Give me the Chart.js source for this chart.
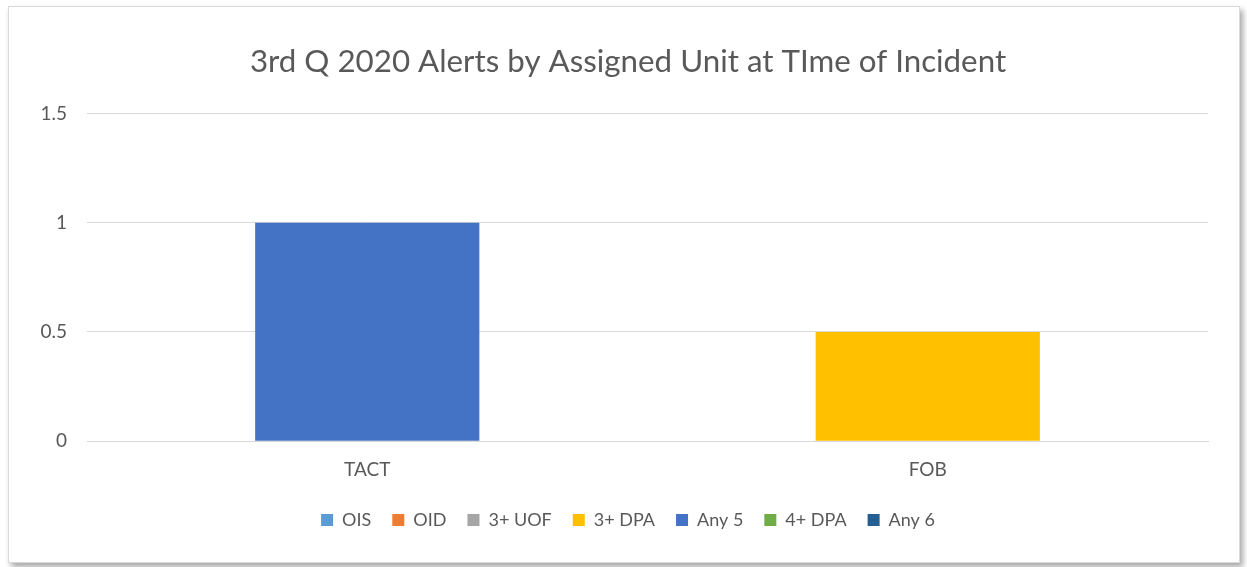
<!DOCTYPE html>
<html>
<head>
<meta charset="utf-8">
<script src="https://cdn.jsdelivr.net/npm/chart.js@4"></script>
<style>
  html, body { margin: 0; padding: 0; background: #fff; }
  #frame {
    position: absolute; left: 8px; top: 6px; width: 1230px; height: 555px;
    border: 1px solid #d9d9d9; background: #fff;
    box-shadow: 3px 4px 6px rgba(0,0,0,0.35);
  }
  #chart { display: block; }
</style>
</head>
<body>
<div id="frame"><canvas id="chart" width="1230" height="555"></canvas></div>
<script>
const categories = ["TACT", "FOB"];
const seriesNames = ["OIS", "OID", "3+ UOF", "3+ DPA", "Any 5", "4+ DPA", "Any 6"];
const seriesColors = ["#5B9BD5", "#ED7D31", "#A5A5A5", "#FFC000", "#4472C4", "#70AD47", "#255E91"];
const ois = [null, null];
const oid = [null, null];
const uof3 = [null, null];
const dpa3 = [null, 0.5];
const any5 = [1, null];
const dpa4 = [null, null];
const any6 = [null, null];
const yTicks = [0, 0.5, 1, 1.5];

const values = [ois, oid, uof3, dpa3, any5, dpa4, any6];
const font = "Lato, 'Open Sans', sans-serif";

new Chart(document.getElementById("chart"), {
  type: "bar",
  data: {
    labels: categories,
    datasets: seriesNames.map((name, i) => ({
      label: name,
      data: values[i],
      backgroundColor: seriesColors[i],
      borderWidth: 0,
      categoryPercentage: 1,
      barPercentage: 0.4
    }))
  },
  options: {
    responsive: false,
    animation: false,
    layout: { padding: { left: 8, right: 0, top: 36, bottom: 23 } },
    plugins: {
      title: {
        display: true,
        text: "3rd Q 2020 Alerts by Assigned Unit at TIme of Incident",
        color: "#595959",
        font: { family: font, size: 31.3, weight: "normal" },
        padding: { top: 0, bottom: 33 }
      },
      legend: {
        position: "bottom",
        labels: {
          color: "#595959",
          font: { family: font, size: 18 },
          boxWidth: 12,
          boxHeight: 12,
          padding: 21
        }
      },
      tooltip: { enabled: false }
    },
    scales: {
      x: {
        stacked: true,
        grid: { display: false },
        border: { color: "#d9d9d9" },
        ticks: { color: "#595959", font: { family: font, size: 19 }, padding: 9 }
      },
      y: {
        stacked: true,
        min: 0,
        max: 1.5,
        afterBuildTicks: s => { s.ticks = yTicks.map(v => ({ value: v })); },
        afterFit: s => { s.width = 70; },
        grid: { color: "#d9d9d9", drawTicks: false },
        border: { display: false },
        ticks: {
          color: "#595959",
          font: { family: font, size: 19 },
          padding: 20,
          callback: v => String(v)
        }
      },
      // empty right-hand spacer so title and legend centre on the full frame
      yRight: {
        position: "right",
        min: 0,
        max: 1.5,
        afterFit: s => { s.width = 31; },
        grid: { display: false, drawTicks: false },
        border: { display: false },
        ticks: { display: false }
      }
    }
  }
});
</script>
</body>
</html>
